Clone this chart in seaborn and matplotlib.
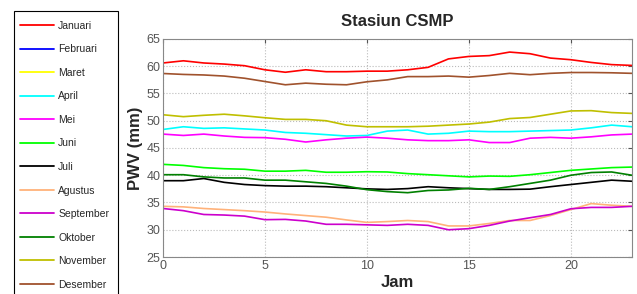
import numpy as np
import pandas as pd
import matplotlib
matplotlib.use("Agg")
import matplotlib.pyplot as plt
from matplotlib.lines import Line2D
from matplotlib.patches import Rectangle
import seaborn as sns

hours = list(range(24))
months = ["Januari", "Februari", "Maret", "April", "Mei", "Juni", "Juli",
          "Agustus", "September", "Oktober", "November", "Desember"]
colors = ["#ff0000", "#0000ff", "#ffff00", "#00ffff", "#ff00ff", "#00ff00",
          "#000000", "#ffb27a", "#cc00cc", "#008000", "#bfbf00", "#a0522d"]

januari = [60.6, 61.0, 60.6, 60.4, 60.1, 59.35, 58.9, 59.35, 59.0, 59.0, 59.1, 59.1,
           59.35, 59.8, 61.35, 61.8, 61.95, 62.6, 62.3, 61.5, 61.2, 60.7, 60.3, 60.15]
februari = []
maret = []
april = [48.4, 48.9, 48.6, 48.7, 48.5, 48.3, 47.85, 47.7, 47.45, 47.2, 47.3, 48.1,
         48.3, 47.55, 47.7, 48.1, 48.0, 48.0, 48.1, 48.2, 48.3, 48.7, 49.2, 48.9]
mei = [47.55, 47.3, 47.55, 47.2, 46.95, 46.9, 46.6, 46.1, 46.5, 46.8, 47.0, 46.8,
       46.5, 46.35, 46.35, 46.5, 46.0, 46.0, 46.8, 46.95, 46.8, 47.05, 47.4, 47.55]
juni = [42.0, 41.8, 41.4, 41.2, 41.1, 40.75, 40.75, 40.9, 40.55, 40.55, 40.65, 40.6,
        40.3, 40.1, 39.9, 39.7, 39.85, 39.8, 40.1, 40.5, 40.9, 41.15, 41.4, 41.5]
juli = [39.0, 39.0, 39.4, 38.7, 38.3, 38.1, 38.0, 38.0, 37.9, 37.7, 37.5, 37.4,
        37.55, 37.9, 37.7, 37.55, 37.4, 37.4, 37.45, 37.9, 38.3, 38.7, 39.1, 38.9]
agustus = [34.3, 34.2, 33.9, 33.7, 33.5, 33.25, 32.9, 32.6, 32.3, 31.8, 31.35, 31.5,
           31.7, 31.5, 30.7, 30.7, 31.15, 31.7, 31.7, 32.6, 33.7, 34.8, 34.5, 34.3]
september = [33.9, 33.5, 32.8, 32.7, 32.5, 31.85, 31.9, 31.6, 31.0, 31.0, 30.9, 30.8,
             31.0, 30.8, 30.0, 30.2, 30.8, 31.6, 32.2, 32.8, 33.85, 34.1, 34.1, 34.3]
oktober = [40.1, 40.1, 39.7, 39.5, 39.5, 39.1, 39.1, 38.8, 38.5, 38.0, 37.35, 37.0,
           36.8, 37.2, 37.3, 37.6, 37.4, 37.9, 38.5, 39.1, 40.0, 40.5, 40.6, 40.0]
november = [51.1, 50.75, 51.0, 51.2, 50.9, 50.55, 50.25, 50.25, 50.0, 49.2, 48.9, 48.9,
            48.9, 49.0, 49.2, 49.4, 49.75, 50.4, 50.6, 51.2, 51.8, 51.85, 51.5, 51.35]
desember = [58.67, 58.5, 58.4, 58.2, 57.8, 57.2, 56.6, 56.9, 56.7, 56.6, 57.15, 57.5,
            58.1, 58.1, 58.2, 58.0, 58.3, 58.7, 58.45, 58.7, 58.85, 58.85, 58.8, 58.7]

series = [januari, februari, maret, april, mei, juni, juli, agustus,
          september, oktober, november, desember]

rows = []
for m, vals in zip(months, series):
    for h, v in zip(hours, vals):
        rows.append({"Jam": h, "PWV": v, "Bulan": m})
df = pd.DataFrame(rows)

sns.set_style("white")
plt.rcParams["font.family"] = ["Liberation Sans", "DejaVu Sans"]

fig = plt.figure(figsize=(6.37, 2.94), dpi=100)
ax = fig.add_axes([163/637, 1-257/294, (632-163)/637, (257-39)/294])

present = [m for m, v in zip(months, series) if len(v)]
pal = {m: c for m, c in zip(months, colors)}
sns.lineplot(data=df, x="Jam", y="PWV", hue="Bulan", hue_order=present,
             palette=pal, ax=ax, legend=False, linewidth=1.2)

ax.set_xlim(0, 23)
ax.set_ylim(25, 65)
ax.set_xticks([0, 5, 10, 15, 20])
ax.set_yticks(range(25, 66, 5))
ax.grid(True, linestyle=":", color="#bbbbbb", linewidth=0.8)
ax.tick_params(direction="in", length=3, colors="#555555", labelsize=9,
               top=True, right=True, pad=2)
for s in ax.spines.values():
    s.set_color("#888888")
    s.set_linewidth(0.8)
ax.set_xlabel("Jam", fontsize=12, fontweight="bold", labelpad=2)
ax.set_ylabel("PWV (mm)", fontsize=12, fontweight="bold", labelpad=2)
ax.set_title("Stasiun CSMP", fontsize=12, fontweight="bold", pad=9)

# legend frame (clipped at the bottom of the figure, like the reference)
fig.patches.append(Rectangle((14/637, -0.05), (118-14)/637, (1-11/294) + 0.05,
                             transform=fig.transFigure, facecolor="white",
                             edgecolor="black", linewidth=0.8, zorder=0))

handles = [Line2D([], [], color=c, linewidth=1.3) for c in colors]
leg = fig.legend(handles, months, loc="upper left",
                 bbox_to_anchor=(14/637, 1-15/294), fontsize=7.5,
                 frameon=False, labelspacing=1.30, handlelength=3.3,
                 handletextpad=0.4, borderpad=0.55, borderaxespad=0)

fig.savefig("out.png", dpi=100)
